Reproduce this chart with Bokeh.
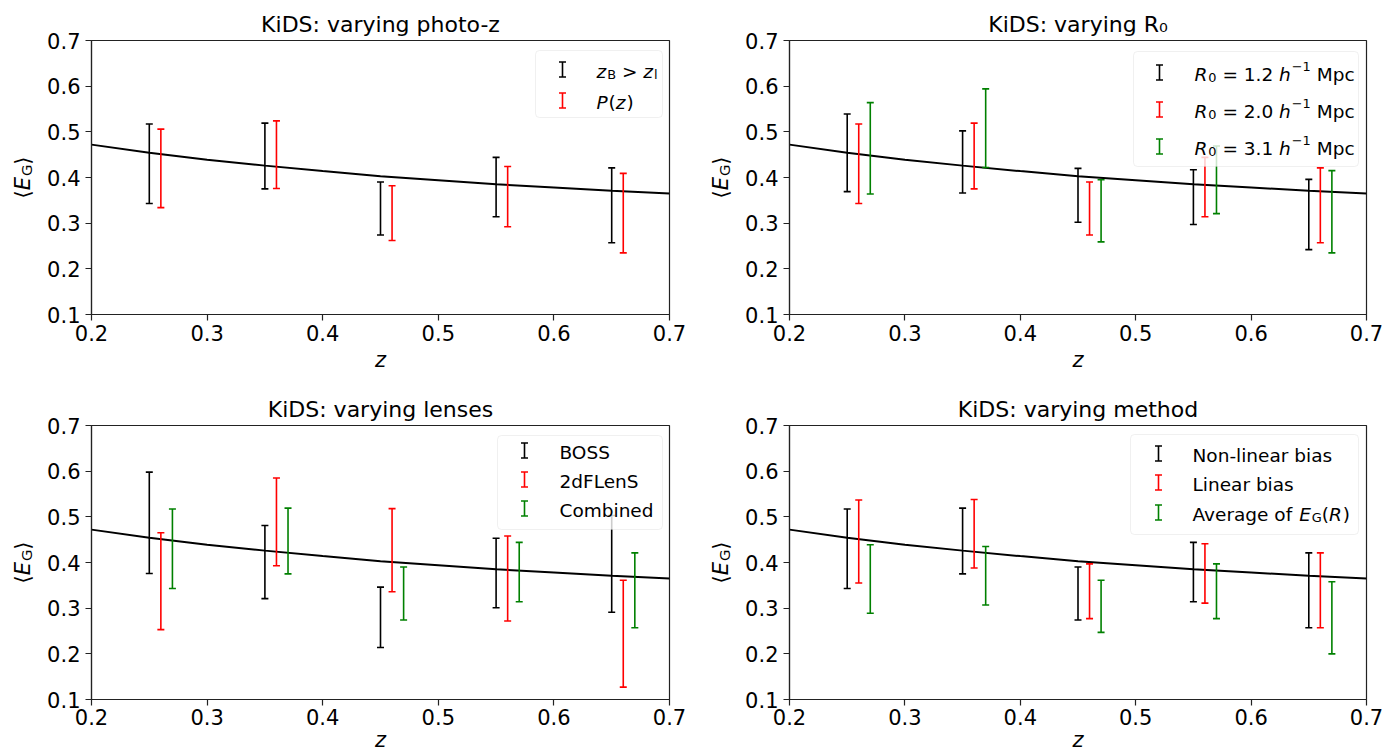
import math
from bokeh.plotting import figure
from bokeh.layouts import column, row
from bokeh.models import (Range1d, FixedTicker, Label, BoxAnnotation, Whisker,
                          TeeHead, ColumnDataSource)
from bokeh.embed import file_html
from bokeh.resources import INLINE

# ------------------------------------------------------------------ data
z_black = [0.25, 0.35, 0.45, 0.55, 0.65]
z_red = [0.26, 0.36, 0.46, 0.56, 0.66]
z_green = [0.27, 0.37, 0.47, 0.57, 0.67]

theory_z = [0.20, 0.25, 0.30, 0.35, 0.40, 0.45, 0.50, 0.55, 0.60, 0.65, 0.70]
theory_EG = [0.472, 0.454, 0.439, 0.426, 0.414, 0.403, 0.394, 0.385, 0.378, 0.371, 0.365]

# fiducial KiDS measurement (z_B > z_l, R0 = 2.0, combined lenses, non-linear bias)
fiducial_EG = [0.430, 0.447, 0.332, 0.379, 0.339]
fiducial_err = [0.087, 0.072, 0.058, 0.065, 0.082]

pz_EG = [0.420, 0.450, 0.322, 0.358, 0.322]
pz_err = [0.086, 0.074, 0.060, 0.066, 0.087]

r12_EG = [0.454, 0.434, 0.361, 0.357, 0.319]
r12_err = [0.085, 0.068, 0.059, 0.060, 0.077]
r31_EG = [0.464, 0.508, 0.327, 0.395, 0.325]
r31_err = [0.100, 0.086, 0.068, 0.074, 0.090]

boss_EG = [0.487, 0.401, 0.280, 0.377, 0.397]
boss_err = [0.111, 0.080, 0.066, 0.076, 0.106]
twodf_EG = [0.359, 0.489, 0.427, 0.365, 0.244]
twodf_err = [0.106, 0.096, 0.091, 0.093, 0.117]

linear_EG = [0.446, 0.463, 0.337, 0.376, 0.339]
linear_err = [0.091, 0.075, 0.060, 0.065, 0.082]
avg_EG = [0.364, 0.371, 0.304, 0.337, 0.279]
avg_err = [0.075, 0.064, 0.057, 0.060, 0.079]

titles = ["KiDS: varying photo-z", "KiDS: varying R\u2080",
          "KiDS: varying lenses", "KiDS: varying method"]

x_ticks = [0.2, 0.3, 0.4, 0.5, 0.6, 0.7]
x_tick_labels = ["0.2", "0.3", "0.4", "0.5", "0.6", "0.7"]
y_ticks = [0.1, 0.2, 0.3, 0.4, 0.5, 0.6, 0.7]
y_tick_labels = ["0.1", "0.2", "0.3", "0.4", "0.5", "0.6", "0.7"]

# ------------------------------------------------------------------ style
FONT = "DejaVu Sans"
TICK_FS = 21
TITLE_FS = 22
LEG_FS = 18.5
BLACK, RED, GREEN = "#000000", "#ff0000", "#008000"
LABEL_W = 44   # width of the strip holding the rotated y-axis label

# DejaVu Sans advance widths (em)
ADV = {' ': 0.318, '.': 0.318, '=': 0.838, '>': 0.838, '(': 0.390, ')': 0.390,
       '\u2212': 0.838, '-': 0.361, 'M': 0.863, 'p': 0.635, 'c': 0.550, 'h': 0.634,
       'R': 0.695, 'z': 0.525, 'P': 0.603, 'B': 0.686, 'l': 0.278, 'E': 0.632,
       'G': 0.775, 'A': 0.684, 'v': 0.592, 'e': 0.615, 'r': 0.411, 'a': 0.613,
       'g': 0.635, 'o': 0.612, 'f': 0.352, '\u27e8': 0.39, '\u27e9': 0.39}
for d in "0123456789":
    ADV[d] = 0.636


def adv(text, fs):
    return sum(ADV.get(c, 0.6) for c in text) * fs


def runs_width(runs, size):
    w = 0.0
    for text, style, scale, shift in runs:
        w += adv(text, size * scale) + (0.05 * size if style == "italic" else 0)
    return w


def rich(p, x, y, runs, size, angle=0.0):
    """Place a run of differently styled texts, frame-relative screen px."""
    pos = 0.0
    for text, style, scale, shift in runs:
        fs = size * scale
        lead = len(text) - len(text.lstrip(' '))
        pos += adv(' ' * lead, fs)
        core = text.strip(' ')
        if angle == 0.0:
            lx, ly = x + pos, y + shift * size
        else:
            lx, ly = x - shift * size, y + pos
        p.add_layout(Label(x=lx, y=ly, x_units="screen", y_units="screen", text=core,
                           text_font=FONT, text_font_size=f"{fs:.1f}px",
                           text_font_style=style, text_color="black",
                           text_align="left", text_baseline="alphabetic", angle=angle))
        pos += adv(text.lstrip(' '), fs)
        if style == "italic":
            pos += 0.05 * size


YLAB_RUNS = [("\u27e8", "normal", 1, 0), ("E", "italic", 1, 0),
             ("G", "normal", 0.7, -0.2), ("\u27e9", "normal", 1, 0)]


def ylabel_strip(height):
    # the strip's frame is aligned with the neighbouring panel's frame by the row layout
    f = figure(width=LABEL_W, height=height, x_range=Range1d(0, 1), y_range=Range1d(0, 1),
               x_axis_type=None, y_axis_type=None, output_backend="svg",
               toolbar_location=None, min_border_left=0, min_border_right=0,
               min_border_top=0, min_border_bottom=0)
    f.outline_line_color = None
    f.background_fill_color = "white"
    f.border_fill_color = "white"
    w = runs_width(YLAB_RUNS, TICK_FS)
    rich(f, 22, 137 - w / 2, YLAB_RUNS, TICK_FS, angle=math.pi / 2)
    return f


def make_fig(title, width, height, bottom, lab_standoff, axlab_standoff):
    p = figure(width=width, height=height, x_range=Range1d(0.2, 0.7),
               y_range=Range1d(0.1, 0.7), output_backend="svg", toolbar_location=None,
               title=title, min_border_left=90 - LABEL_W, min_border_right=29,
               min_border_top=40, min_border_bottom=bottom)
    p.title.text_font = FONT
    p.title.text_font_size = f"{TITLE_FS}px"
    p.title.text_font_style = "normal"
    p.title.text_color = "black"
    p.title.align = "center"
    p.title.standoff = 7
    p.background_fill_color = "white"
    p.border_fill_color = "white"
    p.outline_line_color = "#222222"
    p.outline_line_width = 1.2
    p.xgrid.visible = False
    p.ygrid.visible = False
    p.xaxis.ticker = FixedTicker(ticks=x_ticks)
    p.xaxis.major_label_overrides = dict(zip(x_ticks, x_tick_labels))
    p.yaxis.ticker = FixedTicker(ticks=y_ticks)
    p.yaxis.major_label_overrides = dict(zip(y_ticks, y_tick_labels))
    for ax in (p.xaxis[0], p.yaxis[0]):
        ax.major_label_text_font = FONT
        ax.major_label_text_font_size = f"{TICK_FS}px"
        ax.major_label_text_color = "black"
        ax.major_tick_out = 6
        ax.major_tick_in = 0
        ax.minor_tick_out = 0
        ax.minor_tick_in = 0
        ax.axis_line_color = "#222222"
        ax.axis_line_width = 1.2
        ax.major_tick_line_color = "#222222"
        ax.major_tick_line_width = 1.2
    p.xaxis.major_label_standoff = lab_standoff
    p.yaxis.major_label_standoff = 5
    p.xaxis.axis_label = "z"
    p.xaxis.axis_label_text_font = FONT
    p.xaxis.axis_label_text_font_size = f"{TICK_FS}px"
    p.xaxis.axis_label_text_font_style = "italic"
    p.xaxis.axis_label_text_color = "black"
    p.xaxis.axis_label_standoff = axlab_standoff
    # theory curve
    p.line(theory_z, theory_EG, line_color="black", line_width=2)
    return p


def errorbars(p, z, mean, err, color):
    lo = [m - e for m, e in zip(mean, err)]
    hi = [m + e for m, e in zip(mean, err)]
    src = ColumnDataSource(dict(z=z, lo=lo, hi=hi))
    p.segment(x0="z", y0="lo", x1="z", y1="hi", source=src, line_color=color, line_width=1.6)
    p.scatter(x="z", y="lo", source=src, marker="dash", size=7, line_color=color, line_width=1.6)
    p.scatter(x="z", y="hi", source=src, marker="dash", size=7, line_color=color, line_width=1.6)


def legend(p, box, sym_x, text_x, rows):
    l, r, t, b = box
    p.add_layout(BoxAnnotation(left=l, right=r, top=t, bottom=b, left_units="screen",
                               right_units="screen", top_units="screen",
                               bottom_units="screen", fill_color="white", fill_alpha=0.8,
                               line_color="#cccccc", line_width=1, border_radius=4,
                               level="annotation"))
    for y, color, runs in rows:
        src = ColumnDataSource(dict(base=[sym_x], lower=[y - 7.5], upper=[y + 7.5]))
        p.add_layout(Whisker(source=src, base="base", lower="lower", upper="upper",
                             base_units="screen", lower_units="screen", upper_units="screen",
                             dimension="height", line_color=color, line_width=1.6,
                             level="annotation",
                             upper_head=TeeHead(size=7, line_color=color, line_width=1.6),
                             lower_head=TeeHead(size=7, line_color=color, line_width=1.6)))
        rich(p, text_x, y - 1.5, runs, LEG_FS)


def r0_runs(v):
    return [("R", "italic", 1, 0), ("0", "normal", 0.7, -0.2), (f" = {v} ", "normal", 1, 0),
            ("h", "italic", 1, 0), ("\u22121", "normal", 0.7, 0.42), (" Mpc", "normal", 1, 0)]


# ---------------------------------------------------------------- panel 1
p1 = make_fig(titles[0], 698 - LABEL_W, 385, 71, 4, 4)
errorbars(p1, z_black, fiducial_EG, fiducial_err, BLACK)
errorbars(p1, z_red, pz_EG, pz_err, RED)
legend(p1, (444, 571, 264, 197), 471, 505, [
    (245, BLACK, [("z", "italic", 1, 0), ("B", "normal", 0.7, -0.2), (" > ", "normal", 1, 0),
                  ("z", "italic", 1, 0), ("l", "normal", 0.7, -0.2)]),
    (214, RED, [("P", "italic", 1, 0), ("(", "normal", 1, 0), ("z", "italic", 1, 0),
                (")", "normal", 1, 0)]),
])

# ---------------------------------------------------------------- panel 2
p2 = make_fig(titles[1], 697 - LABEL_W, 385, 71, 4, 4)
errorbars(p2, z_black, r12_EG, r12_err, BLACK)
errorbars(p2, z_red, fiducial_EG, fiducial_err, RED)
errorbars(p2, z_green, r31_EG, r31_err, GREEN)
legend(p2, (344, 569, 263, 148), 370, 405, [
    (242, BLACK, r0_runs("1.2")),
    (205, RED, r0_runs("2.0")),
    (168, GREEN, r0_runs("3.1")),
])

# ---------------------------------------------------------------- panel 3
p3 = make_fig(titles[2], 698 - LABEL_W, 371, 57, 3, 0)
errorbars(p3, z_black, boss_EG, boss_err, BLACK)
errorbars(p3, z_red, twodf_EG, twodf_err, RED)
errorbars(p3, z_green, fiducial_EG, fiducial_err, GREEN)
legend(p3, (406, 571, 264, 170), 433, 468, [
    (249, BLACK, [("BOSS", "normal", 1, 0)]),
    (220, RED, [("2dFLenS", "normal", 1, 0)]),
    (191, GREEN, [("Combined", "normal", 1, 0)]),
])

# ---------------------------------------------------------------- panel 4
p4 = make_fig(titles[3], 697 - LABEL_W, 371, 57, 3, 0)
errorbars(p4, z_black, fiducial_EG, fiducial_err, BLACK)
errorbars(p4, z_red, linear_EG, linear_err, RED)
errorbars(p4, z_green, avg_EG, avg_err, GREEN)
legend(p4, (341, 569, 265, 165), 369, 403, [
    (246, BLACK, [("Non-linear bias", "normal", 1, 0)]),
    (217, RED, [("Linear bias", "normal", 1, 0)]),
    (187, GREEN, [("Average of ", "normal", 1, 0), ("E", "italic", 1, 0),
                  ("G", "normal", 0.7, -0.2), ("(", "normal", 1, 0), ("R", "italic", 1, 0),
                  (")", "normal", 1, 0)]),
])

layout = column(row(ylabel_strip(385), p1, ylabel_strip(385), p2),
                row(ylabel_strip(371), p3, ylabel_strip(371), p4))
open("out.html", "w").write(file_html(layout, INLINE))
